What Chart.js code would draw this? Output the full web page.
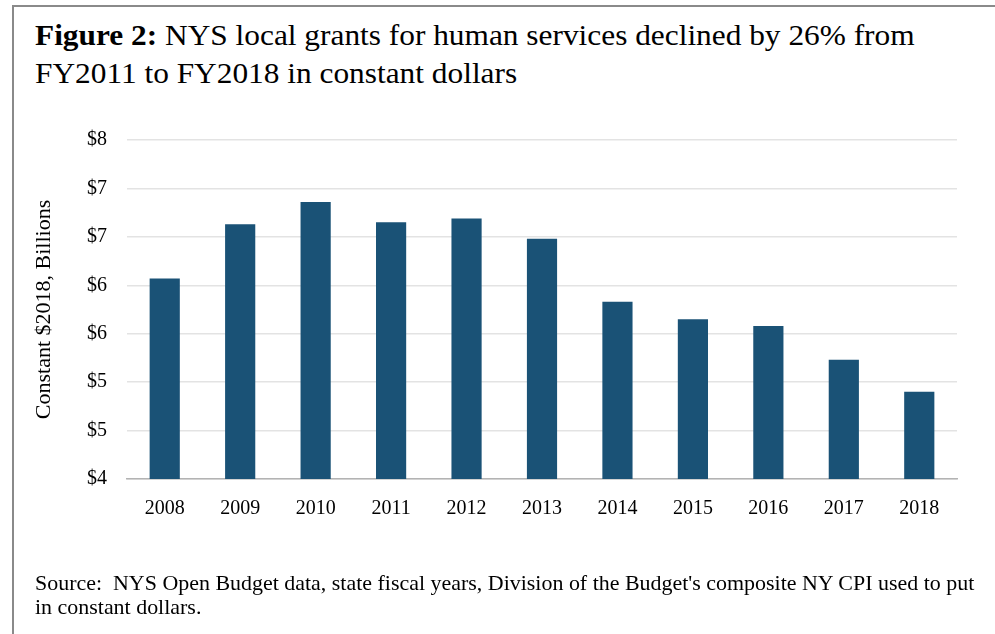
<!DOCTYPE html>
<html lang="en">
<head>
    <meta charset="UTF-8">
    <title>NYS local grants for human services</title>
    <script src="https://cdn.jsdelivr.net/npm/chart.js"></script>
    <style>
        html, body {
            margin: 0;
            padding: 0;
            background: #ffffff;
            width: 995px;
            height: 634px;
            overflow: hidden;
            font-family: "Liberation Serif", "Times New Roman", serif;
            color: #000;
        }
        .frame {
            position: absolute;
            left: 12px;
            top: 5px;
            right: 0;
            bottom: 0;
            border-top: 2px solid #8a8a8a;
            border-left: 2px solid #8a8a8a;
        }
        .title {
            position: absolute;
            left: 35px;
            top: 16px;
            font-size: 30px;
            line-height: 38px;
            white-space: nowrap;
            transform: scaleX(1.045);
            transform-origin: left top;
        }
        .source {
            position: absolute;
            left: 35px;
            top: 571px;
            font-size: 21px;
            line-height: 24px;
            white-space: nowrap;
            transform: scaleX(1.045);
            transform-origin: left top;
        }
        #chartWrap {
            position: absolute;
            left: 0;
            top: 0;
            width: 995px;
            height: 634px;
        }
    </style>
</head>
<body>
    <div class="frame"></div>
    <div class="title"><b>Figure 2:</b> NYS local grants for human services declined by 26% from<br>FY2011 to FY2018 in constant dollars</div>
    <div id="chartWrap"><canvas id="grantsChart" width="995" height="634"></canvas></div>
    <div class="source">Source:&nbsp; NYS Open Budget data, state fiscal years, Division of the Budget's composite NY CPI used to put<br>in constant dollars.</div>

    <script>
        // fiscal years and grants in constant 2018 dollars (billions)
        const years = ["2008", "2009", "2010", "2011", "2012", "2013", "2014", "2015", "2016", "2017", "2018"];
        const grants = [6.07, 6.63, 6.86, 6.65, 6.69, 6.48, 5.83, 5.65, 5.58, 5.23, 4.90];
        const yMin = 4;
        const yMax = 7.5;
        const yStep = 0.5;

        const serif = "'Liberation Serif', 'Times New Roman', serif";

        const ctx = document.getElementById("grantsChart").getContext("2d");
        const chart = new Chart(ctx, {
            type: "bar",
            data: {
                labels: years,
                datasets: [{
                    label: "Constant $2018, Billions",
                    data: grants,
                    backgroundColor: "#1a5276",
                    borderWidth: 0,
                    barPercentage: 0.4,
                    categoryPercentage: 1.0
                }]
            },
            options: {
                responsive: false,
                animation: false,
                devicePixelRatio: 1,
                layout: {
                    padding: { left: 30, right: 38, top: 140, bottom: 105 }
                },
                plugins: {
                    legend: { display: false },
                    tooltip: { enabled: false }
                },
                scales: {
                    x: {
                        grid: { display: false, drawTicks: false },
                        border: { display: true, color: "#b3b3b3", width: 1.5 },
                        ticks: {
                            color: "#000",
                            padding: 18,
                            font: { family: serif, size: 20 }
                        },
                        afterFit: (scale) => { scale.height = 50; }
                    },
                    y: {
                        min: yMin,
                        max: yMax,
                        grid: { color: "#e3e3e3", lineWidth: 1.5, drawTicks: false },
                        border: { display: false },
                        ticks: {
                            stepSize: yStep,
                            color: "#000",
                            padding: 20,
                            font: { family: serif, size: 20 },
                            callback: (v) => "$" + Math.round(v)
                        },
                        title: {
                            display: true,
                            text: "Constant $2018, Billions",
                            color: "#000",
                            padding: { top: 1, bottom: 0 },
                            font: { family: serif, size: 22 }
                        },
                        afterFit: (scale) => { scale.width = 97; }
                    }
                }
            }
        });
    </script>
</body>
</html>
